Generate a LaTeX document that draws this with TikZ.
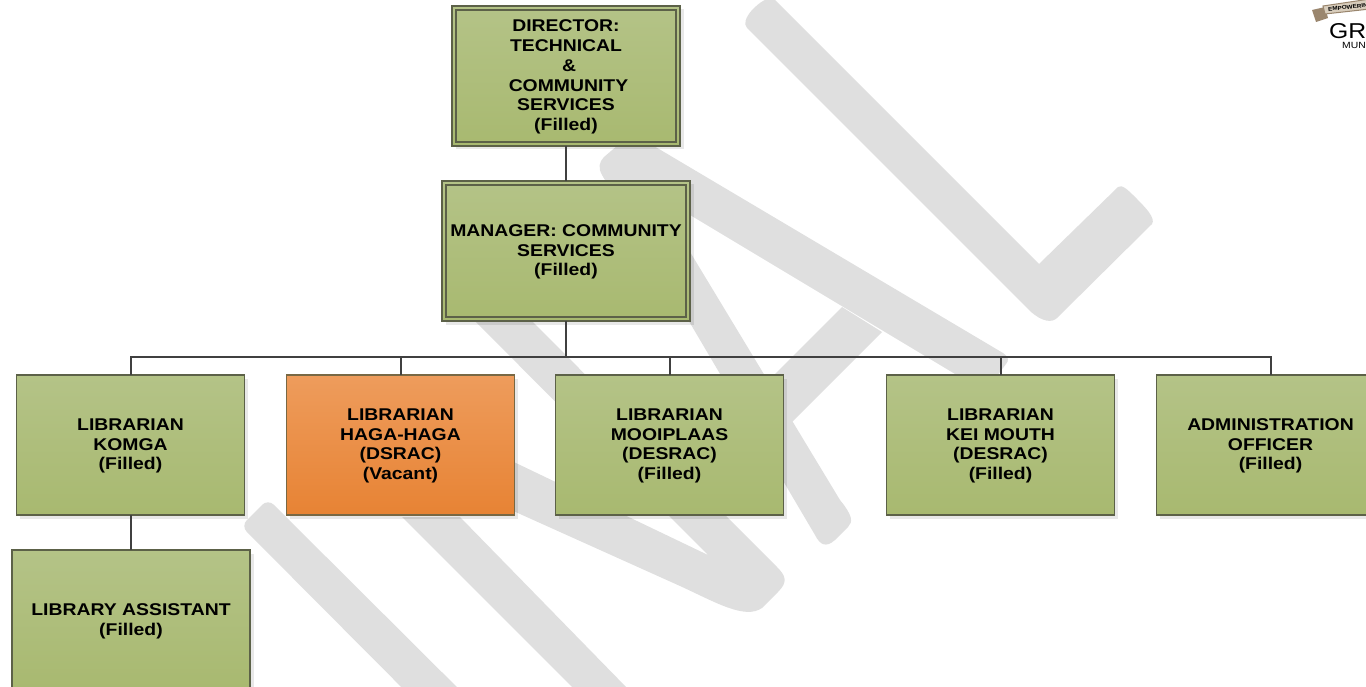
\documentclass[tikz,border=0pt]{standalone}
\usepackage{fontspec}
\setmainfont[FakeStretch=1.14]{Liberation Sans}
\newfontfamily\logofont[FakeStretch=1.15]{Liberation Sans}
\usetikzlibrary{shadows}
\definecolor{wmarkgrey}{HTML}{DFDFDF}
\definecolor{greentop}{HTML}{B4C387}
\definecolor{greenbot}{HTML}{A8B970}
\definecolor{orangetop}{HTML}{EE9C5C}
\definecolor{orangebot}{HTML}{E78334}
\definecolor{boxedge}{HTML}{5C6148}
\definecolor{linkgrey}{HTML}{404040}
\definecolor{ribbonlight}{HTML}{D8CDBC}
\definecolor{ribbondark}{HTML}{9A866E}
\tikzset{
  wmark/.style={fill=wmarkgrey},
  orgbox/.style={draw=boxedge,line width=1.15pt,inner sep=0pt,outer sep=0pt,
    top color=greentop,bottom color=greenbot,align=center,text depth=1.6pt,
    font=\fontsize{17}{19.8}\selectfont\bfseries,
    drop shadow={shadow xshift=3.5pt,shadow yshift=-3.5pt,fill=black,opacity=0.09}},
  smallbox/.style={orgbox,minimum width=228pt,minimum height=140pt},
  vacantbox/.style={smallbox,top color=orangetop,bottom color=orangebot,draw=boxedge!80!orangebot},
  innerline/.style={draw=boxedge,line width=1.15pt},
  link/.style={draw=linkgrey,line width=2pt}
}

\begin{document}
\begin{tikzpicture}[x=1pt,y=-1pt]
  \useasboundingbox (0,0) rectangle (1366,687);
  \clip (0,0) rectangle (1366,687);

  \fill[wmark] (775,0) .. controls (768,-4) and (760,2) .. (752,10)
    .. controls (746,17) and (743,24) .. (747,28) -- (1030,311)
    .. controls (1042,322) and (1052,323) .. (1057,318) -- (1152,224)
    .. controls (1156,218) and (1145,207) .. (1135,197)
    .. controls (1128,190) and (1122,184) .. (1118,187) -- (1039,264) -- cycle;

  \fill[wmark] (632,133) -- (1003,353) .. controls (1009,357) and (1009,361) .. (1006,364)
    -- (985,392) -- (655,194) -- (840,500)
    .. controls (853,516) and (853,522) .. (848,527) -- (835,540)
    .. controls (826,548) and (820,545) .. (815,535) -- (690,323) -- (602,175)
    .. controls (598,168) and (599,162) .. (604,157) -- cycle;
  \fill[wmark] (842,307) -- (882,332) -- (780,434) -- (740,409) -- cycle;

  \fill[wmark] (454,300) -- (708,555) -- (470,441) -- (460,487) -- (680,586)
    .. controls (715,602) and (745,620) .. (762,608) -- (778,592)
    .. controls (788,582) and (786,576) .. (777,567) -- (511,300) -- cycle;

  \fill[wmark] (402,517) -- (574,689) -- (628,689) -- (460,517) -- cycle;

  \fill[wmark,rounded corners=8pt] (268,499) -- (241,526) -- (444,730) -- (500,730) -- cycle;

  \node[orgbox,minimum width=228pt,minimum height=140pt] (director) at (566,76)
    {DIRECTOR:\\TECHNICAL\\\hspace*{6pt}\&\\\hspace*{5pt}COMMUNITY\\SERVICES\\(Filled)};
  \node[orgbox,minimum width=248pt,minimum height=140pt] (manager) at (566,251)
    {MANAGER: COMMUNITY\\SERVICES\\(Filled)};

  \node[smallbox] (komga) at (130.5,445) {LIBRARIAN\\KOMGA\\(Filled)};
  \node[vacantbox] (hagahaga) at (400.5,445) {LIBRARIAN\\HAGA-HAGA\\(DSRAC)\\(Vacant)};
  \node[smallbox] (mooiplaas) at (669.5,445) {LIBRARIAN\\MOOIPLAAS\\(DESRAC)\\(Filled)};
  \node[smallbox] (keimouth) at (1000.5,445) {LIBRARIAN\\KEI MOUTH\\(DESRAC)\\(Filled)};
  \node[smallbox] (admin) at (1270.5,445) {ADMINISTRATION\\OFFICER\\(Filled)};
  \node[orgbox,minimum width=238pt,minimum height=140pt] (assistant) at (131,620)
    {LIBRARY ASSISTANT\\(Filled)};

  \foreach \b in {director,manager}
    \draw[innerline] ([shift={(4,4)}]\b.north west) rectangle ([shift={(-4,-4)}]\b.south east);

  \coordinate (bus) at (566,357);
  \draw[link] (director) -- (manager);
  \draw[link] (manager) -- (bus);
  \foreach \b in {komga,hagahaga,mooiplaas,keimouth,admin}
    \draw[link] (bus) -| (\b.north);
  \draw[link] (komga.south) -- (komga.south |- assistant.north);

  \fill[ribbondark] (1312,10) -- (1325,7) -- (1328,18) -- (1316,22) -- cycle;
  \fill[ribbonlight,draw=ribbondark,line width=1pt] (1323,6) -- (1370,-1) -- (1370,9) -- (1325,14) -- cycle;
  \node[rotate=6,anchor=west,inner sep=0pt,font=\logofont\fontsize{5.5}{6}\selectfont\bfseries] (ribbon) at (1328,9.5) {EMPOWERING};
  \node[anchor=west,inner sep=0pt,font=\logofont\fontsize{21.5}{24}\selectfont] (logoname) at (1329,31) {GR};
  \node[anchor=west,inner sep=0pt,font=\logofont\fontsize{9}{10}\selectfont] (logomun) at (1342,45) {MUN};
\end{tikzpicture}
\end{document}
